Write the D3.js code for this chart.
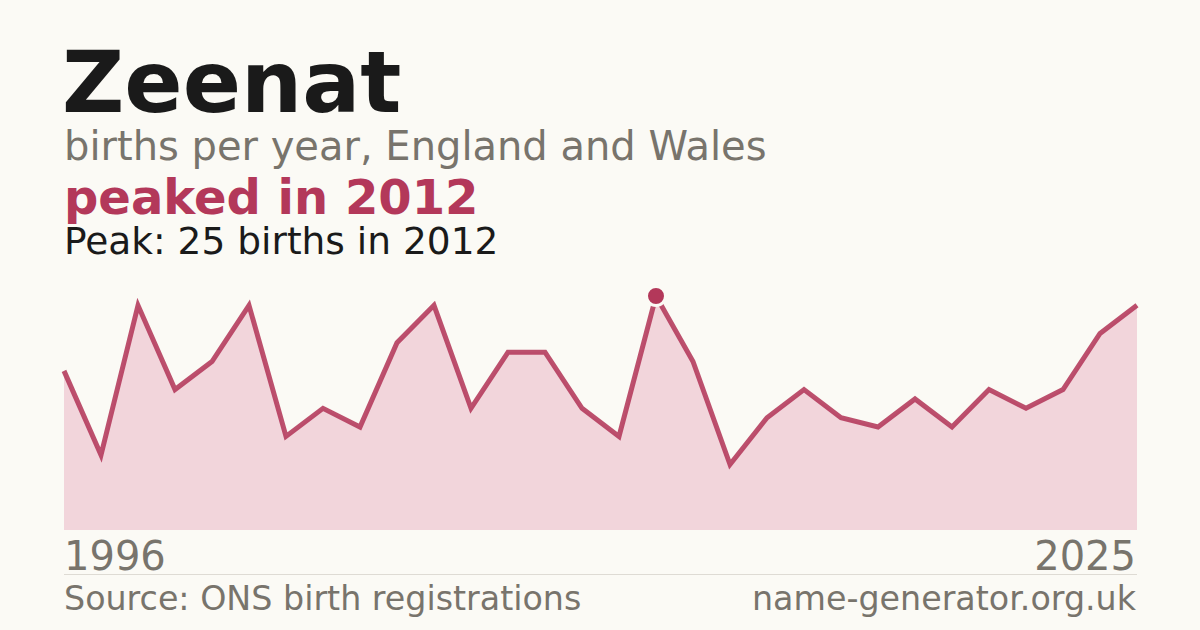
<!DOCTYPE html>
<html>
<head>
<meta charset="utf-8">
<script src="https://cdn.jsdelivr.net/npm/d3@7"></script>
<style>
  html, body { margin: 0; padding: 0; background: #fbfaf5; }
  svg { display: block; font-family: "DejaVu Sans", sans-serif; }
</style>
</head>
<body>
<svg id="chart"></svg>
<script>
/* data */
const years = d3.range(1996, 2026)
const births = [17, 8, 24, 15, 18, 24, 10, 13, 11, 20, 24, 13, 19, 19, 13,
                10, 25, 18, 7, 12, 15, 12, 11, 14, 11, 15, 13, 15, 21, 24]
const firstYearLabel = '1996'
const lastYearLabel = '2025'

const width = 1200, height = 630
const plotLeft = 64, plotRight = 1137
const plotTop = 296, plotBottom = 530

const red = '#b3385a'
const grey = '#78746c'

const data = years.map((y, i) => ({ year: y, value: births[i] }))
const peak = data.reduce((a, b) => (b.value > a.value ? b : a))

const svg = d3.select('#chart')
  .attr('width', width)
  .attr('height', height)

svg.append('rect')
  .attr('width', width)
  .attr('height', height)
  .attr('fill', '#fbfaf5')

/* titres */
svg.append('text')
  .attr('x', 62).attr('y', 112)
  .attr('font-size', 86).attr('font-weight', 'bold')
  .attr('fill', '#1a1a1a')
  .text('Zeenat')

svg.append('text')
  .attr('x', 64).attr('y', 160)
  .attr('font-size', 40)
  .attr('fill', grey)
  .text('births per year, England and Wales')

svg.append('text')
  .attr('x', 64).attr('y', 214)
  .attr('font-size', 48).attr('font-weight', 'bold')
  .attr('fill', red)
  .text('peaked in ' + peak.year)

svg.append('text')
  .attr('x', 64).attr('y', 254)
  .attr('font-size', 37.5)
  .attr('fill', '#1a1a1a')
  .text('Peak: ' + peak.value + ' births in ' + peak.year)

/* scales */
const x = d3.scaleLinear()
  .domain(d3.extent(years))
  .range([plotLeft, plotRight])

const y = d3.scaleLinear()
  .domain([0, d3.max(births)])
  .range([plotBottom, plotTop])

const area = d3.area()
  .x(d => x(d.year))
  .y0(plotBottom)
  .y1(d => y(d.value))

const line = d3.line()
  .x(d => x(d.year))
  .y(d => y(d.value))

svg.append('path')
  .datum(data)
  .attr('d', area)
  .attr('fill', '#f2d5db')

svg.append('path')
  .datum(data)
  .attr('d', line)
  .attr('fill', 'none')
  .attr('stroke', red)
  .attr('stroke-opacity', 0.88)
  .attr('stroke-width', 5)
  .attr('stroke-linejoin', 'miter')

/* point du pic */
svg.append('circle')
  .attr('cx', x(peak.year))
  .attr('cy', y(peak.value))
  .attr('r', 9.5)
  .attr('fill', red)
  .attr('stroke', '#fbfaf5')
  .attr('stroke-width', 3)

/* années */
svg.append('text')
  .attr('x', 64).attr('y', 570)
  .attr('font-size', 40)
  .attr('fill', grey)
  .text(firstYearLabel)

svg.append('text')
  .attr('x', 1136).attr('y', 570)
  .attr('font-size', 40)
  .attr('text-anchor', 'end')
  .attr('fill', grey)
  .text(lastYearLabel)

svg.append('line')
  .attr('x1', 64).attr('x2', 1137)
  .attr('y1', 574.5).attr('y2', 574.5)
  .attr('stroke', '#dedbd4')
  .attr('stroke-width', 1)

/* pied */
svg.append('text')
  .attr('x', 64).attr('y', 610)
  .attr('font-size', 33.3)
  .attr('fill', grey)
  .text('Source: ONS birth registrations')

svg.append('text')
  .attr('x', 1136).attr('y', 610)
  .attr('font-size', 33.3)
  .attr('text-anchor', 'end')
  .attr('fill', grey)
  .text('name-generator.org.uk')
</script>
</body>
</html>
